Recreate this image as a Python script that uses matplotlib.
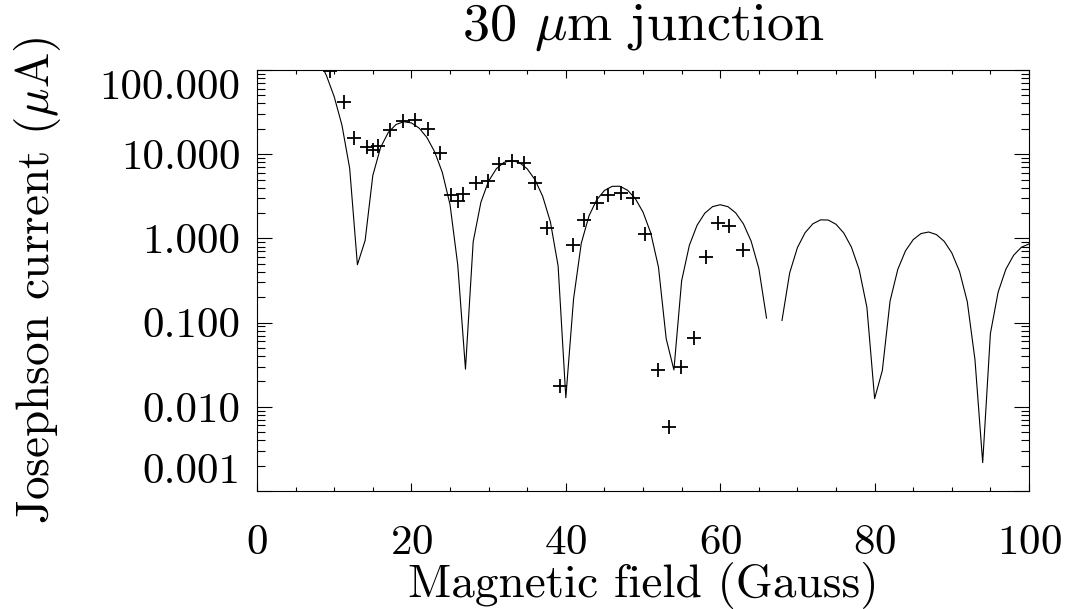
import matplotlib
matplotlib.use('Agg')
import matplotlib.pyplot as plt
import numpy as np
from matplotlib.ticker import MultipleLocator, LogLocator, NullFormatter

# model curve, sampled every gauss (67 G is a zero, left out on the log axis)
field = list(range(7, 101))
current = [191, 133, 85.4, 48.0, 22.1, 6.78, 0.487,
           0.942, 5.60, 12.0, 18.1, 22.5, 24.3, 23.5, 20.4, 15.8, 10.7, 6.07, 2.52, 0.483,
           0.0280, 0.914, 2.69, 4.80, 6.71, 8.00, 8.42, 7.93, 6.69, 4.98, 3.16, 1.57, 0.471, 0.0128,
           0.190, 0.874, 1.85, 2.87, 3.70, 4.15, 4.16, 3.73, 2.97, 2.05, 1.16, 0.456, 0.0644,
           0.0274, 0.313, 0.826, 1.43, 1.99, 2.38, 2.51, 2.38, 2.01, 1.49, 0.929, 0.440, 0.113,
           np.nan,
           0.106, 0.390, 0.777, 1.17, 1.49, 1.66, 1.65, 1.47, 1.16, 0.785, 0.426, 0.152, 0.0125,
           0.0270, 0.180, 0.428, 0.712, 0.967, 1.14, 1.19, 1.11, 0.925, 0.672, 0.405, 0.178, 0.0362,
           0.00217, 0.0744, 0.230, 0.430, 0.629, 0.783, 0.859]

# measured points
meas_field = [9.5, 11.2, 12.6, 14.2, 15.0, 15.7, 17.2, 18.9, 20.5, 22.2, 23.7,
              25.1, 26.0, 26.7, 28.3, 29.9, 31.4, 33.0, 34.6, 36.0, 37.6,
              39.2, 40.9, 42.4, 44.0, 45.5, 47.1, 48.7, 50.3, 51.9, 53.4,
              54.9, 56.6, 58.1, 59.7, 61.2, 62.9]
meas_current = [96, 42, 15.4, 12.2, 11.2, 12.4, 19.5, 25.0, 25.4, 19.7, 10.4,
                3.3, 2.75, 3.4, 4.6, 4.8, 7.7, 8.4, 7.8, 4.6, 1.32,
                0.0178, 0.84, 1.67, 2.66, 3.25, 3.5, 3.05, 1.12, 0.0275, 0.0058,
                0.030, 0.065, 0.60, 1.52, 1.40, 0.72]

yticks = [0.001, 0.01, 0.1, 1, 10, 100]
ylabels = ['0.001', '0.010', '0.100', '1.000', '10.000', '100.000']

plt.rcParams['font.family'] = 'cmr10'
plt.rcParams['mathtext.fontset'] = 'cm'
plt.rcParams['axes.formatter.use_mathtext'] = True

fig = plt.figure(figsize=(10.67, 6.09), dpi=100)
ax = fig.add_axes([0.2409, 0.1938, 0.7235, 0.6913])

ax.plot(field, current, color='black', lw=0.8)
ax.plot(meas_field, meas_current, ls='none', marker='+', ms=10, mew=1.3, color='black')

ax.set_yscale('log')
ax.set_xlim(0, 100)
ax.set_ylim(1e-3, 1e2)

ax.set_xticks(range(0, 101, 20))
ax.xaxis.set_minor_locator(MultipleLocator(5))
ax.set_yticks(yticks, ylabels)
ax.yaxis.set_minor_locator(LogLocator(base=10, subs=range(2, 10), numticks=20))
ax.yaxis.set_minor_formatter(NullFormatter())

ax.tick_params(which='both', direction='in', top=True, right=True, width=0.8, labelsize=31)
ax.tick_params(axis='x', which='major', length=6, pad=24)
ax.tick_params(axis='x', which='minor', length=3)
ax.tick_params(axis='y', which='major', length=11, pad=12)
ax.tick_params(axis='y', which='minor', length=5.5)
for s in ax.spines.values():
    s.set_linewidth(0.8)

# end labels kept inside the axis range
labs = ax.get_yticklabels()
labs[0].set_va('bottom')
labs[-1].set_va('top')

ax.set_title('30 $\\mu$m junction', fontsize=39, pad=22)
ax.set_xlabel('Magnetic field (Gauss)', fontsize=34)
ax.xaxis.label.set_va('baseline')
ax.xaxis.set_label_coords(0.5, -0.252)
ax.set_ylabel('Josephson current ($\\mu$A)', fontsize=34)
ax.yaxis.label.set_va('baseline')
ax.yaxis.set_label_coords(-0.2694, 0.5)

fig.savefig('out.png', dpi=100)
